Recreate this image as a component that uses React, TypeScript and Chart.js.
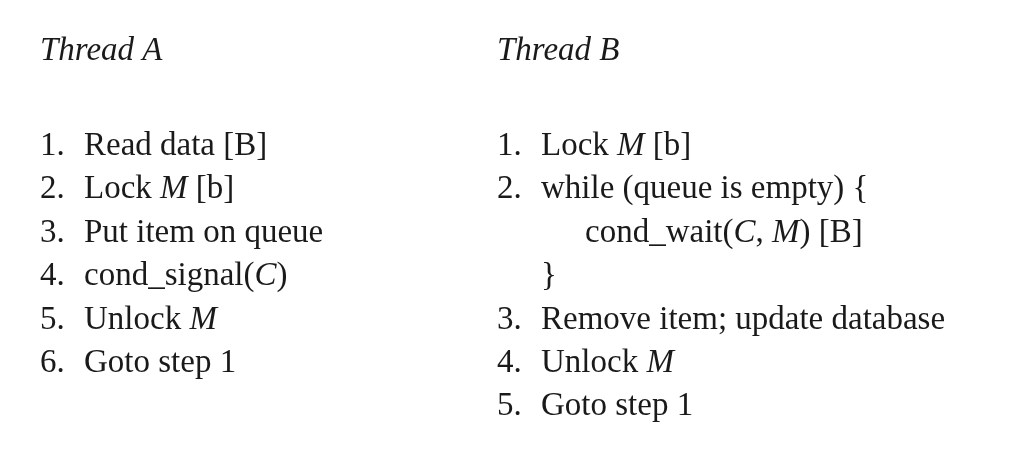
import React, { useEffect, useRef } from "react";
import { Chart, registerables } from "chart.js";
Chart.register(...registerables);

const titles = ["Thread A", "Thread B"];
// *x* = italic segment
const threadA = ["1.|Read data [B]", "2.|Lock *M* [b]", "3.|Put item on queue", "4.|cond_signal(*C*)", "5.|Unlock *M*", "6.|Goto step 1"];
const threadB = ["1.|Lock *M* [b]", "2.|while (queue is empty) {", "|    cond_wait(*C*, *M*) [B]", "|}", "3.|Remove item; update database", "4.|Unlock *M*", "5.|Goto step 1"];
const indentB = [0, 0, 44, 0, 0, 0, 0];

const FONT = "'Liberation Serif', 'Times New Roman', serif";

function drawRich(ctx: CanvasRenderingContext2D, s: string, x: number, y: number) {
  const parts = s.split("*");
  parts.forEach((p, i) => {
    ctx.font = (i % 2 ? "italic " : "") + "33px " + FONT;
    ctx.fillText(p, x, y);
    x += ctx.measureText(p).width;
  });
}

const textPlugin = {
  id: "textPlugin",
  afterDraw(chart: any) {
    const ctx: CanvasRenderingContext2D = chart.ctx;
    ctx.save();
    ctx.fillStyle = "#1a1a1a";
    ctx.textBaseline = "alphabetic";
    const cols = [{ x: 40, lines: threadA, ind: threadA.map(() => 0) }, { x: 497, lines: threadB, ind: indentB }];
    cols.forEach((c, ci) => {
      ctx.font = "italic 33px " + FONT;
      ctx.fillText(titles[ci], c.x, 60);
      c.lines.forEach((l, i) => {
        const [num, txt] = l.split("|");
        const y = 155 + i * 43.4;
        ctx.font = "33px " + FONT;
        if (num) ctx.fillText(num, c.x, y);
        const t = txt.trim();
        const extra = t === "}" ? 0 : c.ind[i];
        drawRich(ctx, t, c.x + 44 + extra, y);
      });
    });
    ctx.restore();
  },
};

export default function App() {
  const ref = useRef<HTMLCanvasElement>(null);
  useEffect(() => {
    document.body.style.margin = "0";
    const chart = new Chart(ref.current!, {
      type: "scatter",
      data: { datasets: [] },
      options: {
        animation: false,
        responsive: false,
        plugins: { legend: { display: false }, tooltip: { enabled: false } },
        scales: { x: { display: false }, y: { display: false } },
      },
      plugins: [textPlugin],
    });
    return () => chart.destroy();
  }, []);
  return (
    <div style={{ width: 1024, height: 456, background: "#fff" }}>
      <canvas ref={ref} width={1024} height={456} />
    </div>
  );
}
